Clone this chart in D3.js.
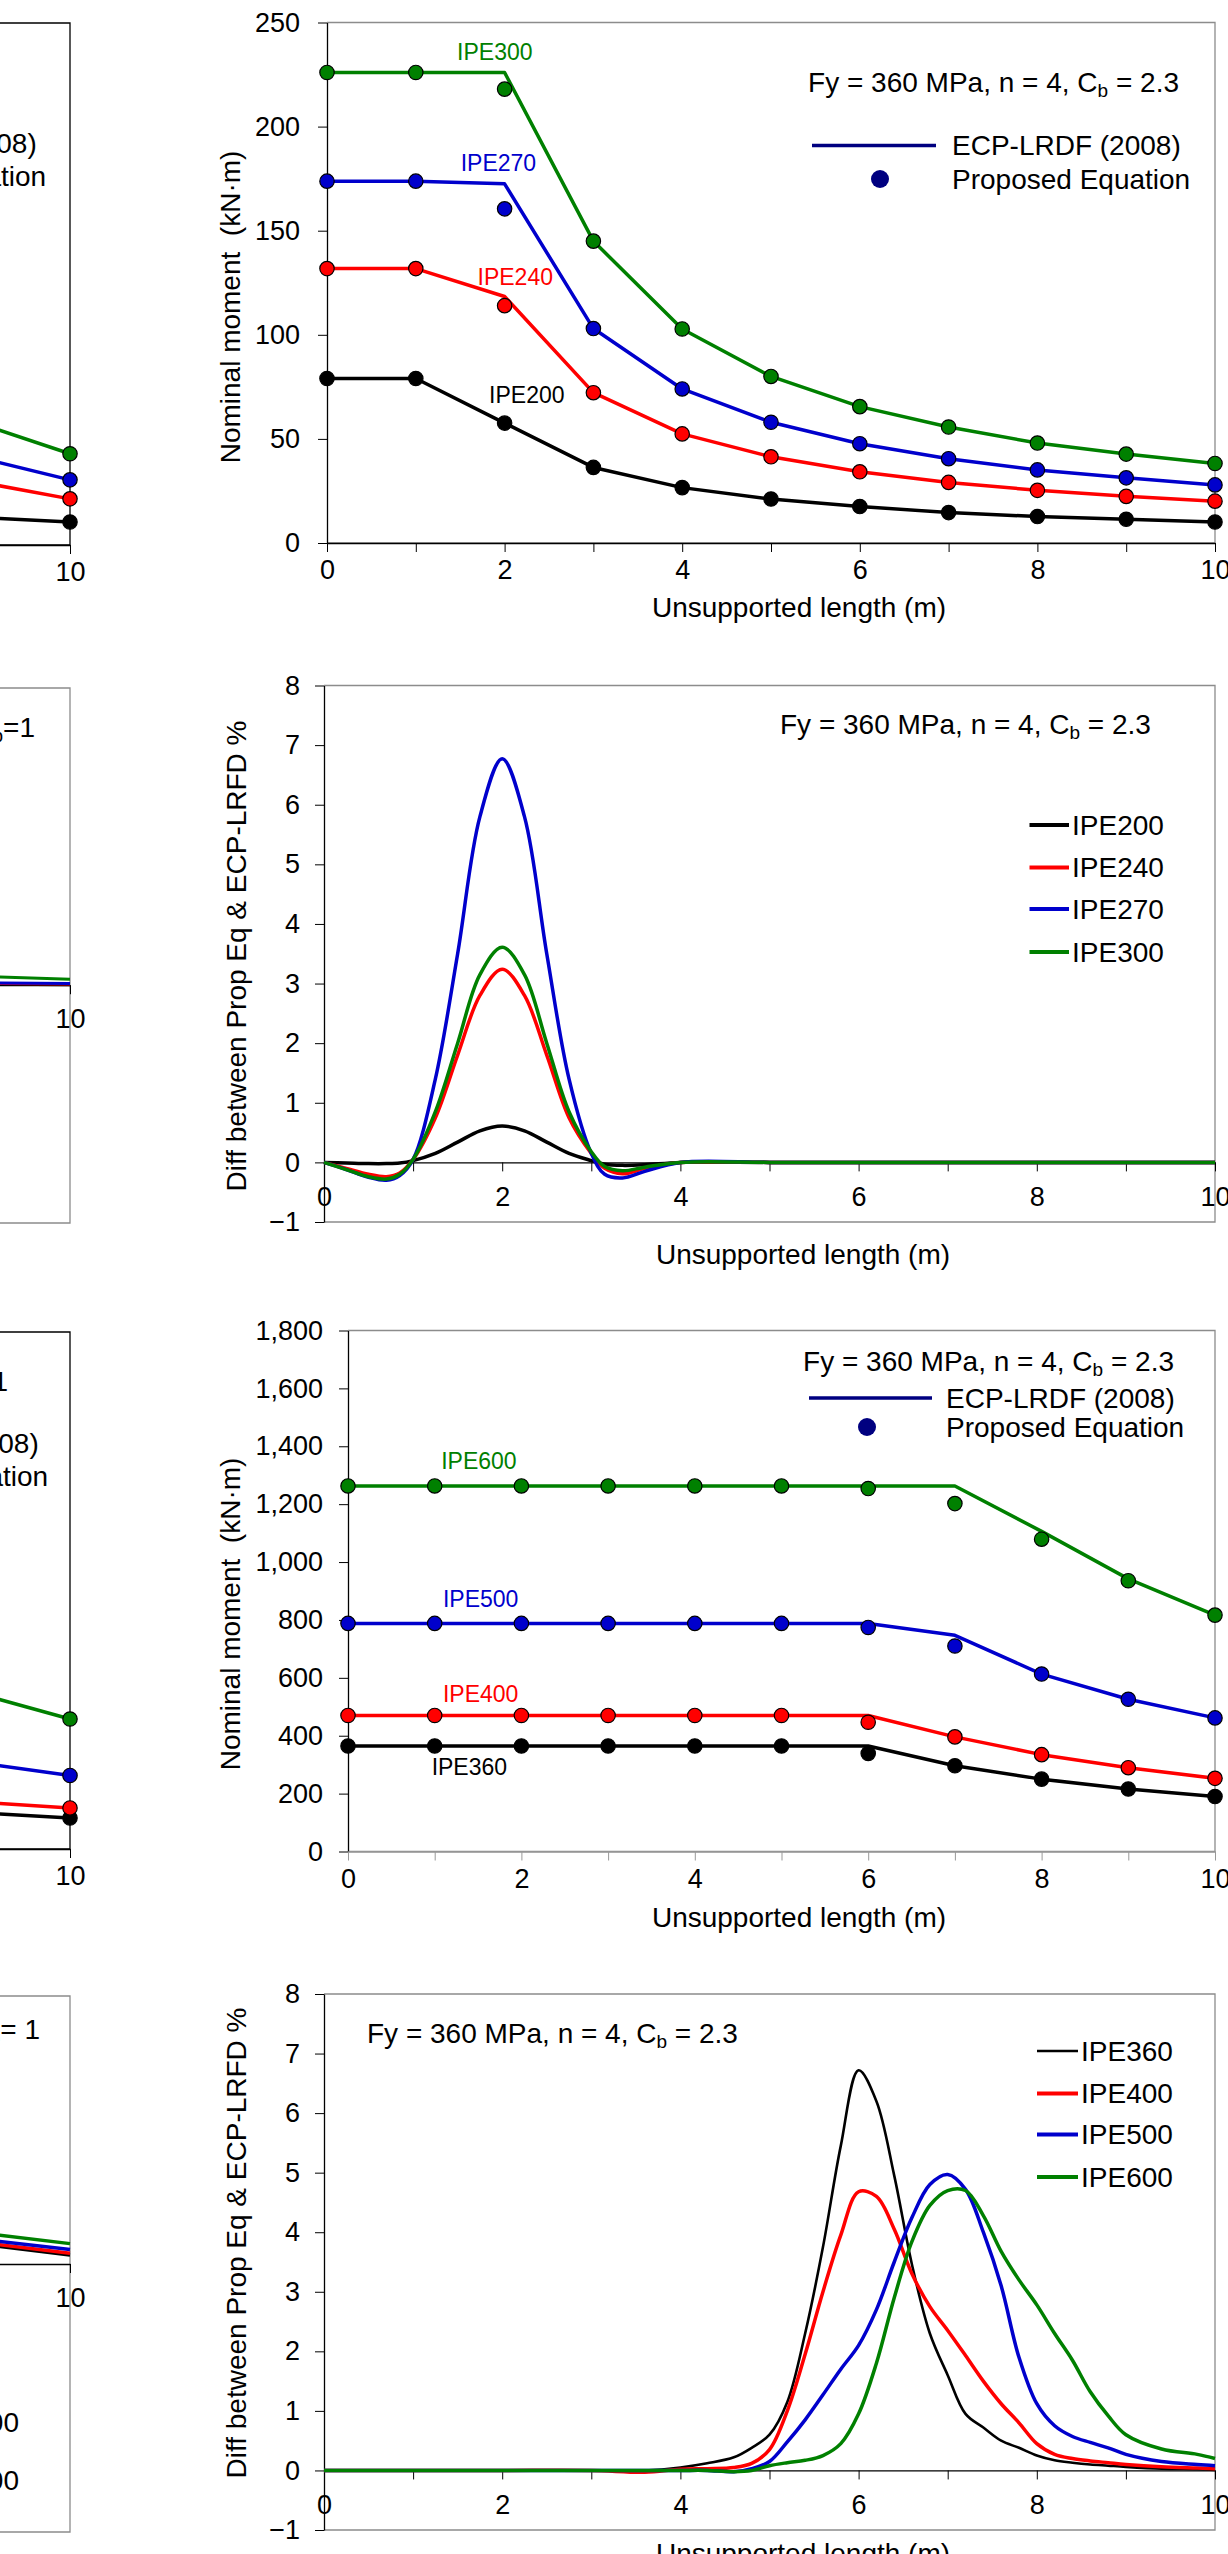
<!DOCTYPE html>
<html>
<head>
<meta charset="utf-8">
<script src="https://cdn.jsdelivr.net/npm/d3@7"></script>
<style>
body { margin: 0; background: #fff; overflow: hidden; }
svg { display: block; font-family: "Liberation Sans", Arial, sans-serif; }
text { white-space: pre; }
</style>
</head>
<body>
<svg id="fig" width="1228" height="2554"></svg>
<script>
// ---- data ----
var lengths = [0, 1, 2, 3, 4, 5, 6, 7, 8, 9, 10];
var smallSections = ["IPE200", "IPE240", "IPE270", "IPE300"];
var largeSections = ["IPE360", "IPE400", "IPE500", "IPE600"];

// top chart: nominal moment (kN.m), ECP line and proposed eq. dots
var ecp200 = [79, 79, 57.6, 36.3, 26.6, 21.1, 17.5, 14.6, 12.7, 11.4, 10.1];
var prop200 = [79, 79, 57.6, 36.3, 26.6, 21.1, 17.5, 14.6, 12.7, 11.4, 10.1];
var ecp240 = [131.8, 131.8, 118.4, 72.2, 52.4, 41.4, 34.2, 29.1, 25.3, 22.4, 20.1];
var prop240 = [131.8, 131.8, 114, 72.2, 52.4, 41.4, 34.2, 29.1, 25.3, 22.4, 20.1];
var ecp270 = [173.8, 173.8, 172.5, 103, 74, 58, 47.7, 40.5, 35.1, 31.3, 27.9];
var prop270 = [173.8, 173.8, 160.5, 103, 74, 58, 47.7, 40.5, 35.1, 31.3, 27.9];
var ecp300 = [226, 226, 226, 145, 102.8, 80, 65.5, 55.7, 48, 42.7, 38.2];
var prop300 = [226, 226, 218, 145, 102.8, 80, 65.5, 55.7, 48, 42.7, 38.2];

// second chart: difference %
var diffLenA = [0, 0.25, 0.5, 0.7, 0.85, 1, 1.25, 1.5, 1.75, 2, 2.25, 2.5, 2.75, 3, 3.15, 3.35, 3.6, 4, 5, 6, 7, 8, 9, 10];
var diff200 = [0, -0.01, -0.02, -0.02, -0.01, 0.03, 0.15, 0.34, 0.53, 0.61, 0.53, 0.34, 0.15, 0.03, -0.03, -0.05, -0.04, 0, 0, 0, 0, 0, 0, 0];
var diff240 = [0, -0.1, -0.2, -0.24, -0.18, 0.05, 0.75, 1.8, 2.8, 3.24, 2.8, 1.8, 0.75, 0.15, -0.1, -0.19, -0.1, 0, 0, 0, 0, 0, 0, 0];
var diff270 = [0, -0.12, -0.25, -0.3, -0.22, 0.05, 1.4, 3.5, 5.8, 6.77, 5.8, 3.5, 1.4, 0.15, -0.2, -0.26, -0.15, 0, 0, 0, 0, 0, 0, 0];
var diff300 = [0, -0.12, -0.24, -0.28, -0.2, 0.05, 0.85, 2.0, 3.15, 3.61, 3.15, 2.0, 0.85, 0.18, -0.07, -0.14, -0.08, 0, 0, 0, 0, 0, 0, 0];

// third chart: nominal moment, large sections
var ecp360 = [364.7, 364.7, 364.7, 364.7, 364.7, 364.7, 364.7, 296.4, 250, 215.8, 189.8];
var prop360 = [364.7, 364.7, 364.7, 364.7, 364.7, 364.7, 338.7, 296.4, 250, 215.8, 189.8];
var ecp400 = [470, 470, 470, 470, 470, 470, 470, 396, 334.6, 289.5, 252.7];
var prop400 = [470, 470, 470, 470, 470, 470, 446.6, 396, 334.6, 289.5, 252.7];
var ecp500 = [788, 788, 788, 788, 788, 788, 788, 747, 613, 526, 461.6];
var prop500 = [788, 788, 788, 788, 788, 788, 774, 710, 613, 526, 461.6];
var ecp600 = [1263, 1263, 1263, 1263, 1263, 1263, 1263, 1263, 1106, 942, 817];
var prop600 = [1263, 1263, 1263, 1263, 1263, 1263, 1254, 1202, 1079, 935.5, 816.7];

// fourth chart: difference %, large sections
var diffLenB = [0, 1, 2, 3, 3.6, 4, 4.3, 4.6, 4.8, 5, 5.2, 5.4, 5.6, 5.8, 6, 6.2, 6.4, 6.6, 6.8, 7, 7.2, 7.4, 7.6, 7.8, 8, 8.2, 8.4, 8.6, 8.8, 9, 9.4, 9.8, 10];
var diff360 = [0, 0, 0, 0, 0, 0.05, 0.12, 0.22, 0.38, 0.6, 1.15, 2.3, 3.75, 5.45, 6.72, 6.2, 4.95, 3.45, 2.3, 1.6, 0.95, 0.72, 0.5, 0.38, 0.25, 0.17, 0.13, 0.1, 0.08, 0.06, 0.03, 0.02, 0.01];
var diff400 = [0, 0, 0, 0, -0.03, 0.02, 0.03, 0.05, 0.12, 0.35, 1.0, 1.95, 3.0, 3.95, 4.68, 4.6, 4.05, 3.3, 2.75, 2.35, 1.93, 1.5, 1.12, 0.8, 0.45, 0.27, 0.2, 0.16, 0.13, 0.1, 0.06, 0.04, 0.03];
var diff500 = [0, 0, 0, 0, 0, 0, 0, -0.02, 0.03, 0.15, 0.48, 0.85, 1.27, 1.7, 2.1, 2.7, 3.5, 4.25, 4.8, 4.97, 4.72, 4.0, 3.1, 1.9, 1.12, 0.75, 0.57, 0.47, 0.38, 0.27, 0.15, 0.1, 0.08];
var diff600 = [0, 0, 0, 0, 0, 0, 0, -0.02, 0, 0.08, 0.13, 0.17, 0.25, 0.45, 0.95, 1.8, 2.9, 3.85, 4.45, 4.7, 4.7, 4.28, 3.68, 3.2, 2.78, 2.3, 1.85, 1.32, 0.92, 0.6, 0.36, 0.27, 0.2];

// neighbouring charts (Cb = 1), only their right ends are in view
var edgeLen = [9, 10];
var edgeMoment = [[13.2, 11.0], [30, 22.1], [41.6, 31.2], [57.9, 43.7]];
var edgeDiff = [[0.02, 0.01], [0.03, 0.02], [0.04, 0.03], [0.15, 0.1]];
var edgeMomentL = [[125.5, 108], [161.6, 143], [298, 256], [536, 452.6]];
var edgeDiffL = [[0.37, 0.17], [0.4, 0.2], [0.46, 0.27], [0.58, 0.38]];

var colors = ["#000000", "#ff0000", "#0000cc", "#008000"];
var navy = "#000080";

var svg = d3.select("#fig");

function drawPanel(p) {
  var x = d3.scaleLinear().domain([0, 10]).range([p.left, p.right]);
  var y = d3.scaleLinear().domain(p.yDomain).range([p.bottom, p.top]);
  var g = svg.append("g");

  // frame
  g.append("path")
    .attr("d", "M" + p.left + "," + p.top + "H" + p.right + "V" + p.bottom + "H" + p.left)
    .attr("fill", "none").attr("stroke", p.frame).attr("stroke-width", 1.3);

  var ya = g.append("g").attr("transform", "translate(" + p.left + ",0)")
    .call(d3.axisLeft(y).tickValues(p.yTicks).tickFormat(p.yFormat)
      .tickSize(9).tickSizeOuter(0).tickPadding(p.yPad));
  var xa = g.append("g").attr("transform", "translate(0," + y(0) + ")")
    .call(d3.axisBottom(x).tickValues(lengths).tickFormat(function(d) { return d % 2 ? "" : d; })
      .tickSize(9).tickSizeOuter(0).tickPadding(p.xPad));

  [ya, xa].forEach(function(a) {
    a.attr("font-family", null).attr("font-size", 27);
    a.selectAll("text").attr("fill", "#000");
  });
  // the neighbouring charts only show their right end: drop labels that lie off the page
  xa.selectAll("text").filter(function(d) { return x(d) < 0; }).remove();
  if (p.left < 0) ya.selectAll("text").remove();

  ya.select(".domain").attr("stroke", "#000").attr("stroke-width", 1.3);
  ya.selectAll(".tick line").attr("stroke", "#000");
  xa.select(".domain").attr("stroke", p.xColor).attr("stroke-width", 1.3);
  xa.selectAll(".tick line").attr("stroke", p.xColor);

  if (p.yTitle) {
    g.append("text")
      .attr("transform", "translate(" + p.yTitlePos[0] + "," + p.yTitlePos[1] + ") rotate(-90)")
      .attr("text-anchor", "middle").attr("dy", "0.35em").attr("font-size", 28)
      .text(p.yTitle);
    g.append("text")
      .attr("x", p.xTitlePos[0]).attr("y", p.xTitlePos[1])
      .attr("text-anchor", "middle").attr("dy", "0.35em").attr("font-size", 28)
      .text("Unsupported length (m)");
  }
  return { x: x, y: y, g: g };
}

function fyLabel(g, px, py, anchor, cbText) {
  var t = g.append("text").attr("x", px).attr("y", py + 10)
    .attr("font-size", 28).attr("text-anchor", anchor);
  t.append("tspan").text("Fy = 360 MPa, n = 4, C");
  t.append("tspan").attr("font-size", 19).attr("dy", 5).text("b");
  t.append("tspan").attr("dy", -5).text(cbText);
}

function momentSeries(pp, lens, lines, dots, width) {
  var line = d3.line().x(function(d) { return pp.x(d[0]); }).y(function(d) { return pp.y(d[1]); });
  lines.forEach(function(vals, i) {
    pp.g.append("path")
      .datum(lens.map(function(l, k) { return [l, vals[k]]; }))
      .attr("d", line).attr("fill", "none")
      .attr("stroke", colors[i]).attr("stroke-width", width).attr("stroke-linejoin", "round");
  });
  dots.forEach(function(vals, i) {
    pp.g.selectAll(null)
      .data(lens.map(function(l, k) { return [l, vals[k]]; }))
      .enter().append("circle")
      .attr("cx", function(d) { return pp.x(d[0]); })
      .attr("cy", function(d) { return pp.y(d[1]); })
      .attr("r", 7.2).attr("fill", colors[i]).attr("stroke", "#000").attr("stroke-width", 1.2);
  });
}

function diffSeries(pp, lens, series, widths) {
  var line = d3.line().curve(d3.curveCatmullRom.alpha(0.5))
    .x(function(d) { return pp.x(d[0]); }).y(function(d) { return pp.y(d[1]); });
  series.forEach(function(vals, i) {
    pp.g.append("path")
      .datum(lens.map(function(l, k) { return [l, vals[k]]; }))
      .attr("d", line).attr("fill", "none")
      .attr("stroke", colors[i]).attr("stroke-width", widths[i]).attr("stroke-linejoin", "round");
  });
}

function sectionLegend(g, x0, x1, ys, names, widths) {
  names.forEach(function(n, i) {
    g.append("line").attr("x1", x0).attr("x2", x1).attr("y1", ys[i]).attr("y2", ys[i])
      .attr("stroke", colors[i]).attr("stroke-width", widths[i]);
    g.append("text").attr("x", x1 + 3).attr("y", ys[i]).attr("dy", "0.35em")
      .attr("font-size", 28).text(n);
  });
}

function methodLegend(g, lx0, lx1, ly, dx, dy, tx) {
  g.append("line").attr("x1", lx0).attr("x2", lx1).attr("y1", ly).attr("y2", ly)
    .attr("stroke", navy).attr("stroke-width", 3.5);
  g.append("circle").attr("cx", dx).attr("cy", dy).attr("r", 9).attr("fill", navy);
  g.append("text").attr("x", tx).attr("y", ly).attr("dy", "0.35em").attr("font-size", 28).text("ECP-LRDF (2008)");
  g.append("text").attr("x", tx).attr("y", dy).attr("dy", "0.35em").attr("font-size", 28).text("Proposed Equation");
}

var grey = "#8c8c8c";
var momentTitle = "Nominal moment\u00a0 (kN\u00b7m)";
var diffTitle = "Diff between Prop Eq & ECP-LRFD %";

// ---------- chart 1 ----------
var p1 = drawPanel({ left: 327, right: 1215, top: 22.5, bottom: 543, yDomain: [0, 250],
  yTicks: d3.range(0, 251, 50), yFormat: d3.format("d"), yPad: 18, xPad: 8,
  frame: grey, xColor: "#000", yTitle: momentTitle, yTitlePos: [230, 307], xTitlePos: [799, 607] });
momentSeries(p1, lengths, [ecp200, ecp240, ecp270, ecp300], [prop200, prop240, prop270, prop300], 3.5);
[[2.25, 71], [2.12, 128], [1.93, 182.5], [1.89, 236]].forEach(function(pos, i) {
  p1.g.append("text").attr("x", p1.x(pos[0])).attr("y", p1.y(pos[1])).attr("dy", "0.35em")
    .attr("text-anchor", "middle").attr("font-size", 23).attr("fill", colors[i]).text(smallSections[i]);
});
fyLabel(p1.g, 1179, 82, "end", " = 2.3");
methodLegend(p1.g, 812, 936, 145.5, 880, 179, 952);

// ---------- chart 2 ----------
var p2 = drawPanel({ left: 324, right: 1215, top: 685.5, bottom: 1222, yDomain: [-1, 8],
  yTicks: d3.range(-1, 9), yFormat: d3.format("d"), yPad: 15, xPad: 15,
  frame: grey, xColor: "#000", yTitle: diffTitle, yTitlePos: [236, 956], xTitlePos: [803, 1254] });
diffSeries(p2, diffLenA, [diff200, diff240, diff270, diff300], [3.5, 3.5, 3.5, 3.5]);
fyLabel(p2.g, 780, 723.6, "start", " = 2.3");
sectionLegend(p2.g, 1029.5, 1069, [825, 867.5, 909, 952], smallSections, [4, 4, 4, 4]);

// ---------- chart 3 ----------
var p3 = drawPanel({ left: 348, right: 1215, top: 1330.5, bottom: 1851.5, yDomain: [0, 1800],
  yTicks: d3.range(0, 1801, 200), yFormat: d3.format(","), yPad: 16, xPad: 8,
  frame: grey, xColor: "#999", yTitle: momentTitle, yTitlePos: [230, 1614], xTitlePos: [799, 1917] });
momentSeries(p3, lengths, [ecp360, ecp400, ecp500, ecp600], [prop360, prop400, prop500, prop600], 3.5);
[[1.4, 292], [1.53, 543], [1.53, 874], [1.51, 1351]].forEach(function(pos, i) {
  p3.g.append("text").attr("x", p3.x(pos[0])).attr("y", p3.y(pos[1])).attr("dy", "0.35em")
    .attr("text-anchor", "middle").attr("font-size", 23).attr("fill", colors[i]).text(largeSections[i]);
});
fyLabel(p3.g, 1174, 1361, "end", " = 2.3");
methodLegend(p3.g, 809, 932, 1398, 867, 1427, 946);

// ---------- chart 4 ----------
var p4 = drawPanel({ left: 324, right: 1215, top: 1994, bottom: 2530, yDomain: [-1, 8],
  yTicks: d3.range(-1, 9), yFormat: d3.format("d"), yPad: 15, xPad: 15,
  frame: grey, xColor: "#000", yTitle: diffTitle, yTitlePos: [236, 2243], xTitlePos: [803, 2553] });
diffSeries(p4, diffLenB, [diff360, diff400, diff500, diff600], [2.6, 3.5, 3.5, 3.5]);
fyLabel(p4.g, 367, 2033, "start", " = 2.3");
sectionLegend(p4.g, 1037, 1078, [2051, 2093.5, 2134.5, 2177], largeSections, [2.6, 4, 4, 4]);

// ---------- neighbouring charts on the left edge ----------
var q1 = drawPanel({ left: -818, right: 70, top: 23, bottom: 545, yDomain: [0, 250],
  yTicks: d3.range(0, 251, 50), yFormat: d3.format("d"), yPad: 18, xPad: 8,
  frame: "#000", xColor: "#000" });
momentSeries(q1, edgeLen, edgeMoment, edgeMoment, 3.5);
methodLegend(q1.g, -333, -209, 143.5, -265, 176, -192);

var q2 = drawPanel({ left: -821, right: 70, top: 688, bottom: 1223, yDomain: [-4, 5],
  yTicks: d3.range(-4, 6), yFormat: d3.format("d"), yPad: 15, xPad: 15,
  frame: grey, xColor: "#000" });
diffSeries(q2, edgeLen, edgeDiff, [3, 3, 3, 3]);
fyLabel(q2.g, 35, 727, "end", "=1");

var q3 = drawPanel({ left: -797, right: 70, top: 1332, bottom: 1849, yDomain: [0, 1800],
  yTicks: d3.range(0, 1801, 200), yFormat: d3.format(","), yPad: 16, xPad: 8,
  frame: "#000", xColor: "#000" });
momentSeries(q3, edgeLen, edgeMomentL, edgeMomentL, 3.5);
fyLabel(q3.g, 8, 1381, "end", " = 1");
methodLegend(q3.g, -328, -204, 1443, -258, 1476, -190);

var q4 = drawPanel({ left: -821, right: 70, top: 1996, bottom: 2532, yDomain: [-5, 5],
  yTicks: d3.range(-5, 6), yFormat: d3.format("d"), yPad: 15, xPad: 15,
  frame: grey, xColor: "#000" });
diffSeries(q4, edgeLen, edgeDiffL, [3.5, 3.5, 3.5, 3.5]);
fyLabel(q4.g, 40, 2029, "end", "= 1");
[[19, 2422, 2], [19, 2480, 3]].forEach(function(e) {
  q4.g.append("text").attr("x", e[0]).attr("y", e[1]).attr("dy", "0.35em")
    .attr("text-anchor", "end").attr("font-size", 28).text(largeSections[e[2]]);
});
</script>
</body>
</html>
